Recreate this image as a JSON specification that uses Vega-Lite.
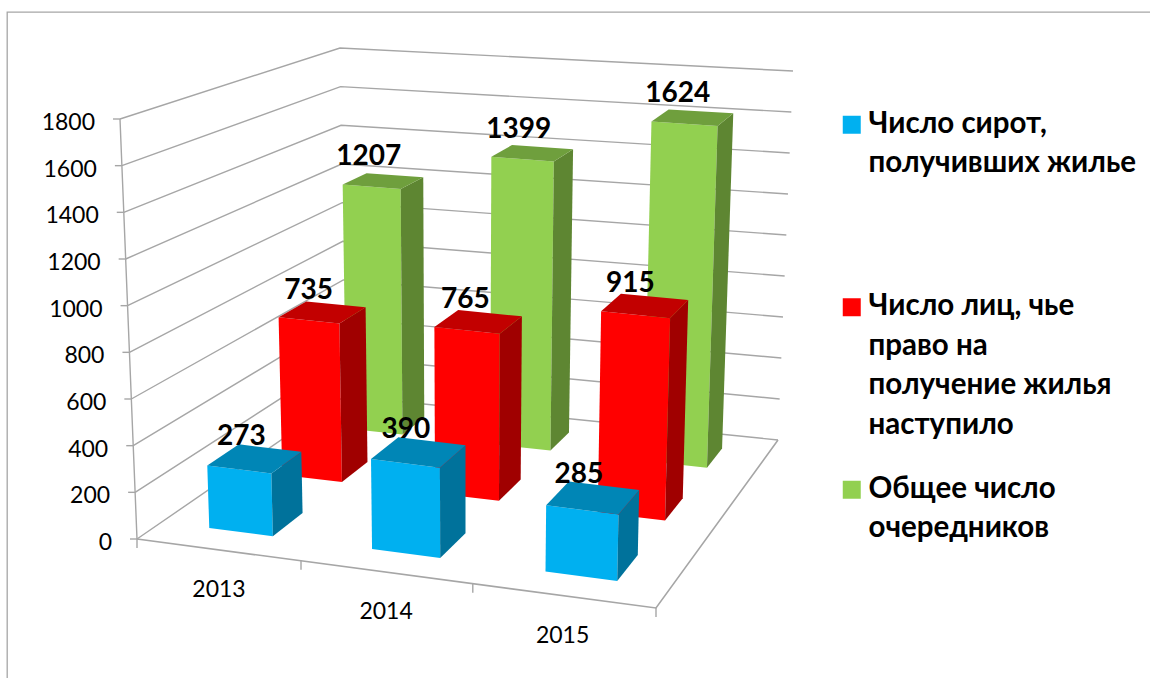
{
"$schema":"https://vega.github.io/schema/vega-lite/v6.json",
"width":1144,"height":667,"autosize":"none",
"padding":{"left":7,"top":12,"right":0,"bottom":0},
"background":"white",
"config":{"view":{"stroke":"#A6A6A6","strokeWidth":1.3},"text":{"font":"Lato"}},
"datasets":{
"bars":[
{"year":"2013","series":"Общее число очередников","value":1207},
{"year":"2014","series":"Общее число очередников","value":1399},
{"year":"2015","series":"Общее число очередников","value":1624},
{"year":"2013","series":"Число лиц, чье право на получение жилья наступило","value":735},
{"year":"2014","series":"Число лиц, чье право на получение жилья наступило","value":765},
{"year":"2015","series":"Число лиц, чье право на получение жилья наступило","value":915},
{"year":"2013","series":"Число сирот, получивших жилье","value":273},
{"year":"2014","series":"Число сирот, получивших жилье","value":390},
{"year":"2015","series":"Число сирот, получивших жилье","value":285}
],
"ticks":[{"tick":0},{"tick":200},{"tick":400},{"tick":600},{"tick":800},{"tick":1000},{"tick":1200},{"tick":1400},{"tick":1600},{"tick":1800}],
"years":[{"year":"2013"},{"year":"2014"},{"year":"2015"}],
"bounds":[{"boundary":0},{"boundary":1},{"boundary":2},{"boundary":3}]
},
"encoding":{
"x":{"field":"px","type":"quantitative","axis":null,"scale":{"domain":[7,1151],"nice":false,"zero":false}},
"y":{"field":"py","type":"quantitative","axis":null,"scale":{"domain":[679,12],"nice":false,"zero":false}}
},
"layer":[
{"data":{"name":"ticks"},
"transform":[
{"calculate":"[0,1,2]","as":"k"},{"flatten":["k"]},
{"calculate":"[0,0,1][datum.k]","as":"u"},{"calculate":"[0,1,1][datum.k]","as":"v"},{"calculate":"datum.tick/1800","as":"w"},
{"calculate":"(1-datum.w)*((1-datum.v)*((1-datum.u)*137+datum.u*656)+datum.v*((1-datum.u)*345+datum.u*778))+datum.w*((1-datum.v)*((1-datum.u)*120+datum.u*666)+datum.v*((1-datum.u)*340+datum.u*793))","as":"px"},
{"calculate":"(1-datum.w)*((1-datum.v)*((1-datum.u)*539+datum.u*608)+datum.v*((1-datum.u)*396+datum.u*440))+datum.w*((1-datum.v)*((1-datum.u)*119+datum.u*180)+datum.v*((1-datum.u)*48+datum.u*71))","as":"py"}
],
"mark":{"type":"line","stroke":"#A6A6A6","strokeWidth":1.4},
"encoding":{"detail":{"field":"tick"},"order":{"field":"k"}}},
{"data":{"name":"ticks"},
"transform":[
{"filter":"datum.tick==0"},
{"calculate":"[0,1,2]","as":"k"},{"flatten":["k"]},
{"calculate":"[0,1,1][datum.k]","as":"u"},{"calculate":"[0,0,1][datum.k]","as":"v"},{"calculate":"0","as":"w"},
{"calculate":"(1-datum.w)*((1-datum.v)*((1-datum.u)*137+datum.u*656)+datum.v*((1-datum.u)*345+datum.u*778))+datum.w*((1-datum.v)*((1-datum.u)*120+datum.u*666)+datum.v*((1-datum.u)*340+datum.u*793))","as":"px"},
{"calculate":"(1-datum.w)*((1-datum.v)*((1-datum.u)*539+datum.u*608)+datum.v*((1-datum.u)*396+datum.u*440))+datum.w*((1-datum.v)*((1-datum.u)*119+datum.u*180)+datum.v*((1-datum.u)*48+datum.u*71))","as":"py"}
],
"mark":{"type":"line","stroke":"#A6A6A6","strokeWidth":1.6},
"encoding":{"order":{"field":"k"}}},
{"data":{"name":"ticks"},
"transform":[
{"calculate":"0","as":"u"},{"calculate":"0","as":"v"},{"calculate":"datum.tick/1800","as":"w"},
{"calculate":"(1-datum.w)*((1-datum.v)*((1-datum.u)*137+datum.u*656)+datum.v*((1-datum.u)*345+datum.u*778))+datum.w*((1-datum.v)*((1-datum.u)*120+datum.u*666)+datum.v*((1-datum.u)*340+datum.u*793))","as":"px"},
{"calculate":"(1-datum.w)*((1-datum.v)*((1-datum.u)*539+datum.u*608)+datum.v*((1-datum.u)*396+datum.u*440))+datum.w*((1-datum.v)*((1-datum.u)*119+datum.u*180)+datum.v*((1-datum.u)*48+datum.u*71))","as":"py"}
],
"mark":{"type":"line","stroke":"#A6A6A6","strokeWidth":1.4},
"encoding":{"order":{"field":"tick"}}},
{"data":{"name":"ticks"},
"transform":[
{"calculate":"0","as":"u"},{"calculate":"0","as":"v"},{"calculate":"datum.tick/1800","as":"w"},
{"calculate":"(1-datum.w)*((1-datum.v)*((1-datum.u)*137+datum.u*656)+datum.v*((1-datum.u)*345+datum.u*778))+datum.w*((1-datum.v)*((1-datum.u)*120+datum.u*666)+datum.v*((1-datum.u)*340+datum.u*793))","as":"px"},
{"calculate":"(1-datum.w)*((1-datum.v)*((1-datum.u)*539+datum.u*608)+datum.v*((1-datum.u)*396+datum.u*440))+datum.w*((1-datum.v)*((1-datum.u)*119+datum.u*180)+datum.v*((1-datum.u)*48+datum.u*71))","as":"py"},
{"calculate":"datum.px-7","as":"px2"}
],
"mark":{"type":"rule","stroke":"#A6A6A6","strokeWidth":1.4},
"encoding":{"x2":{"field":"px2"}}},
{"data":{"name":"ticks"},
"transform":[
{"calculate":"0","as":"u"},{"calculate":"0","as":"v"},{"calculate":"datum.tick/1800","as":"w"},
{"calculate":"(1-datum.w)*((1-datum.v)*((1-datum.u)*137+datum.u*656)+datum.v*((1-datum.u)*345+datum.u*778))+datum.w*((1-datum.v)*((1-datum.u)*120+datum.u*666)+datum.v*((1-datum.u)*340+datum.u*793))","as":"px"},
{"calculate":"(1-datum.w)*((1-datum.v)*((1-datum.u)*539+datum.u*608)+datum.v*((1-datum.u)*396+datum.u*440))+datum.w*((1-datum.v)*((1-datum.u)*119+datum.u*180)+datum.v*((1-datum.u)*48+datum.u*71))","as":"py"}
],
"mark":{"type":"text","align":"right","baseline":"middle","dx":-25,"dy":4,"fontSize":23,"fill":"#000000"},
"encoding":{"text":{"field":"tick","type":"quantitative","format":"d"}}},
{"data":{"name":"bounds"},
"transform":[
{"calculate":"[0,0.316,0.647,1][datum.boundary]","as":"u"},
{"calculate":"137+datum.u*519","as":"px"},
{"calculate":"539+datum.u*69","as":"py"},
{"calculate":"datum.py+9","as":"py2"}
],
"mark":{"type":"rule","stroke":"#A6A6A6","strokeWidth":1.4},
"encoding":{"y2":{"field":"py2"}}},
{"data":{"name":"years"},
"transform":[
{"calculate":"[0.158,0.48,0.82][indexof(['2013','2014','2015'],datum.year)]","as":"u"},
{"calculate":"137+datum.u*519","as":"px"},
{"calculate":"539+datum.u*69","as":"py"}
],
"mark":{"type":"text","align":"center","baseline":"middle","dy":40,"fontSize":23,"fill":"#000000"},
"encoding":{"text":{"field":"year","type":"nominal"}}},
{"data":{"name":"bars"},
"transform":[
{"calculate":"['front','side','top']","as":"face"},{"flatten":["face"]},
{"calculate":"[0,1,2,3]","as":"k"},{"flatten":["k"]},
{"calculate":"indexof(['2013','2014','2015'],datum.year)","as":"i"},
{"calculate":"indexof(['Число сирот, получивших жилье','Число лиц, чье право на получение жилья наступило','Общее число очередников'],datum.series)","as":"j"},
{"calculate":"{front:[0,1,1,0],side:[1,1,1,1],top:[0,1,1,0]}[datum.face][datum.k]","as":"a"},
{"calculate":"{front:[0,0,0,0],side:[0,1,1,0],top:[0,0,1,1]}[datum.face][datum.k]","as":"b"},
{"calculate":"{front:[0,0,1,1],side:[0,0,1,1],top:[1,1,1,1]}[datum.face][datum.k]","as":"c"},
{"calculate":"datum.a?[0.218,0.547,0.895][datum.i]:[0.093,0.413,0.754][datum.i]","as":"u"},
{"calculate":"datum.b?[0.277,0.62,0.92][datum.j]:[0.12,0.485,0.805][datum.j]","as":"v"},
{"calculate":"datum.c*datum.value/1800","as":"w"},
{"calculate":"(1-datum.w)*((1-datum.v)*((1-datum.u)*137+datum.u*656)+datum.v*((1-datum.u)*345+datum.u*778))+datum.w*((1-datum.v)*((1-datum.u)*120+datum.u*666)+datum.v*((1-datum.u)*340+datum.u*793))","as":"px"},
{"calculate":"(1-datum.w)*((1-datum.v)*((1-datum.u)*539+datum.u*608)+datum.v*((1-datum.u)*396+datum.u*440))+datum.w*((1-datum.v)*((1-datum.u)*119+datum.u*180)+datum.v*((1-datum.u)*48+datum.u*71))","as":"py"},
{"calculate":"datum.j+'-'+datum.face","as":"paint"},
{"calculate":"datum.year+'-'+datum.paint","as":"id"}
],
"mark":{"type":"line","strokeWidth":0,"interpolate":"linear-closed"},
"encoding":{
"detail":{"field":"id"},
"order":{"field":"k"},
"fill":{"field":"paint","type":"nominal","legend":null,"scale":{
"domain":["0-front","0-side","0-top","1-front","1-side","1-top","2-front","2-side","2-top"],
"range":["#00B0F0","#00729B","#0086B6","#FF0000","#A00000","#C20000","#92D050","#5E8632","#6F9F3D"]}}
}},
{"data":{"name":"bars"},
"transform":[
{"calculate":"indexof(['2013','2014','2015'],datum.year)","as":"i"},
{"calculate":"indexof(['Число сирот, получивших жилье','Число лиц, чье право на получение жилья наступило','Общее число очередников'],datum.series)","as":"j"},
{"calculate":"[0.093,0.413,0.754][datum.i]+[0.005,0.015,0.02][datum.i]","as":"u"},
{"calculate":"[0.277,0.62,0.92][datum.j]","as":"v"},
{"calculate":"datum.value/1800","as":"w"},
{"calculate":"(1-datum.w)*((1-datum.v)*((1-datum.u)*137+datum.u*656)+datum.v*((1-datum.u)*345+datum.u*778))+datum.w*((1-datum.v)*((1-datum.u)*120+datum.u*666)+datum.v*((1-datum.u)*340+datum.u*793))","as":"px"},
{"calculate":"(1-datum.w)*((1-datum.v)*((1-datum.u)*539+datum.u*608)+datum.v*((1-datum.u)*396+datum.u*440))+datum.w*((1-datum.v)*((1-datum.u)*119+datum.u*180)+datum.v*((1-datum.u)*48+datum.u*71))+[-8,-11,-16][datum.j]","as":"py"}
],
"layer":[
{"mark":{"type":"text","align":"center","baseline":"middle","fontSize":28,"fontWeight":"bold","fill":"#000000"},
"encoding":{"text":{"field":"value","type":"quantitative","format":"d"}}},
{"mark":{"type":"point","shape":"square","filled":true,"opacity":0},
"encoding":{"color":{"field":"series","type":"nominal",
"scale":{"domain":["Число сирот, получивших жилье","Число лиц, чье право на получение жилья наступило","Общее число очередников"],"range":["#00B0F0","#FF0000","#92D050"]},
"legend":{"orient":"none","legendX":830,"legendY":98,"title":null,"symbolType":"square","symbolSize":324,"symbolOpacity":1,"symbolStrokeWidth":0,
"labelFont":"Lato","labelFontWeight":"bold","labelFontSize":29.5,"labelColor":"#000000","labelLimit":400,"labelOffset":2,"labelBaseline":"top","gridAlign":"all","rowPadding":33.5,
"labelExpr":"{'Число сирот, получивших жилье':['Число сирот,','получивших жилье'],'Число лиц, чье право на получение жилья наступило':['Число лиц, чье','право на','получение жилья','наступило'],'Общее число очередников':['Общее число','очередников']}[datum.label]",
"encoding":{"labels":{"lineHeight":{"value":39.5},"dy":{"value":-15}}}}}}}
]}
]
}
